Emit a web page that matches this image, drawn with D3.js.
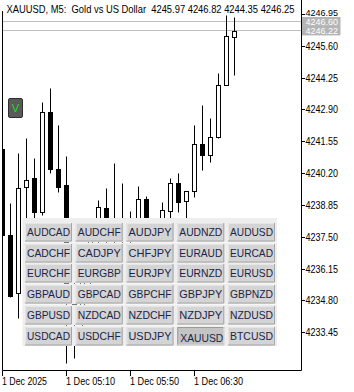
<!DOCTYPE html>
<html><head><meta charset="utf-8">
<script src="https://cdn.jsdelivr.net/npm/d3@7"></script>
<style>html,body{margin:0;padding:0;background:#fff;overflow:hidden}</style>
</head><body>
<svg id="c" width="354" height="392"></svg>
<script>
// ---------- data ----------
const symbolName = "XAUUSD";
const timeframe = "M5";
const description = "Gold vs US Dollar";
const titleOHLC = [4245.97, 4246.82, 4244.35, 4246.25];
const opens  = [4241.23,4237.58,4235.12,4239.61,4239.98,4238.57,4242.78,4240.36,4239.70,4235.25,
                4233.89,4235.67,4237.37,4238.72,4237.58,4237.87,4237.37,4238.00,4239.09,4238.13,
                4238.17,4238.61,4239.80,4239.03,4239.46,4241.44,4240.97,4241.75,4243.94,4245.97];
const highs  = [4241.40,4238.93,4241.06,4241.71,4240.83,4243.22,4243.81,4242.24,4240.93,4236.09,
                4236.00,4237.70,4239.06,4239.57,4240.64,4239.80,4238.60,4239.66,4239.21,4238.21,
                4238.99,4240.01,4240.19,4239.46,4242.24,4243.09,4242.53,4244.44,4246.90,4246.82];
const lows   = [4237.45,4234.93,4234.06,4237.96,4237.79,4238.43,4240.19,4239.40,4232.15,4232.36,
                4233.55,4235.25,4237.15,4237.15,4236.94,4236.39,4236.94,4237.70,4237.79,4237.70,
                4237.96,4238.00,4238.57,4237.41,4239.20,4240.33,4240.69,4241.71,4243.94,4244.35];
const closes = [4237.58,4234.99,4239.57,4239.91,4238.57,4242.78,4240.36,4239.63,4235.25,4233.89,
                4235.67,4237.37,4238.78,4237.58,4237.87,4237.37,4238.00,4239.09,4238.13,4238.17,
                4238.64,4239.80,4238.99,4239.46,4241.44,4240.97,4241.75,4243.94,4246.02,4246.25];
const priceTicks = [4246.95,4245.60,4244.25,4242.90,4241.55,4240.20,4238.85,4237.50,4236.15,4234.80,4233.45];
const timeTickIndex = [0, 8, 16, 24];
const timeTickLabels = ["1 Dec 2025", "1 Dec 05:10", "1 Dec 05:50", "1 Dec 06:30"];
const askPrice = 4246.60, bidPrice = 4246.22;
const buttonSymbols = [
  ["AUDCAD","AUDCHF","AUDJPY","AUDNZD","AUDUSD"],
  ["CADCHF","CADJPY","CHFJPY","EURAUD","EURCAD"],
  ["EURCHF","EURGBP","EURJPY","EURNZD","EURUSD"],
  ["GBPAUD","GBPCAD","GBPCHF","GBPJPY","GBPNZD"],
  ["GBPUSD","NZDCAD","NZDCHF","NZDJPY","NZDUSD"],
  ["USDCAD","USDCHF","USDJPY","XAUUSD","BTCUSD"]
];
const activeSymbol = "XAUUSD";

// ---------- layout ----------
const svg = d3.select("#c");
const L = 2.5, R = 301.5, B = 370.5;
const x = d3.scaleLinear().domain([0, 29]).range([2.5, 234.5]);
const y = d3.scaleLinear().domain([4233.45, 4246.95]).range([332.3, 14]);
const FONT = "'Liberation Sans', Arial, sans-serif";
const fit = (sel, w) => sel.attr("textLength", w).attr("lengthAdjust", "spacingAndGlyphs");

svg.append("defs").append("clipPath").attr("id","plot").append("rect")
  .attr("x", 3).attr("y", 0).attr("width", R - 3).attr("height", B);

// ask / bid lines
svg.append("g").selectAll("line").data([askPrice, bidPrice]).join("line")
  .attr("x1", L).attr("x2", R)
  .attr("y1", d => Math.round(y(d)) - 0.5).attr("y2", d => Math.round(y(d)) - 0.5)
  .attr("stroke", "#c0c0c0").attr("stroke-width", 1);

// candles
const data = opens.map((o,i) => ({i, o, h: highs[i], l: lows[i], c: closes[i]}));
const cg = svg.append("g").attr("clip-path","url(#plot)");
const py = v => Math.round(y(v)) + 0.5;
cg.selectAll("line.w").data(data).join("line").attr("class","w")
  .attr("x1", d => x(d.i)).attr("x2", d => x(d.i))
  .attr("y1", d => py(d.h)).attr("y2", d => py(d.l))
  .attr("stroke", "#000").attr("stroke-width", 1);
cg.selectAll("rect.b").data(data).join("rect").attr("class","b")
  .attr("x", d => x(d.i) - 2).attr("width", 4)
  .attr("y", d => py(Math.max(d.o, d.c)))
  .attr("height", d => Math.max(1, py(Math.min(d.o, d.c)) - py(Math.max(d.o, d.c))))
  .attr("fill", d => d.c >= d.o ? "#fff" : "#000")
  .attr("stroke", "#000").attr("stroke-width", 1);

// frame
svg.append("line").attr("x1", L).attr("x2", L).attr("y1", 11).attr("y2", B).attr("stroke","#000");
svg.append("line").attr("x1", R).attr("x2", R).attr("y1", 0).attr("y2", B).attr("stroke","#000");
svg.append("line").attr("x1", L).attr("x2", R).attr("y1", B).attr("y2", B).attr("stroke","#000");

// ask/bid label boxes
const lab = svg.append("g");
const askY = Math.round(y(askPrice)) - 0.5, bidY = Math.round(y(bidPrice)) - 0.5;
lab.append("rect").attr("x", 302).attr("y", 17).attr("width", 38.5).attr("height", bidY - 4.6 - 17).attr("fill", "#b4b4b4");
lab.append("rect").attr("x", 302).attr("y", bidY - 4.6).attr("width", 38.5).attr("height", 9.5).attr("fill", "#b4b4b4");

// price axis
const pa = svg.append("g");
pa.selectAll("line").data(priceTicks).join("line")
  .attr("x1", R).attr("x2", 305).attr("y1", d => Math.round(y(d)) + 0.5).attr("y2", d => Math.round(y(d)) + 0.5)
  .attr("stroke", "#000");
pa.selectAll("text").data(priceTicks).join("text")
  .attr("x", 305.5).attr("y", (d, k) => y(d) + (k === 0 ? 2 : 4))
  .attr("font-family", FONT).attr("font-size", (d, k) => k === 0 ? 9.5 : 11).attr("fill", "#000")
  .text(d => d.toFixed(2)).call(fit, 32.5);

[[askPrice, askY], [bidPrice, bidY]].forEach(([p, cy]) => {
  lab.append("text").attr("x", 305.5).attr("y", cy + 3.4).attr("font-family", FONT).attr("font-size", 9.5)
    .attr("fill", "#fff").text(p.toFixed(2)).call(fit, 32.5);
});

// time axis
const ta = svg.append("g");
ta.selectAll("line").data(timeTickIndex).join("line")
  .attr("x1", d => x(d)).attr("x2", d => x(d)).attr("y1", B).attr("y2", 376).attr("stroke", "#000");
ta.selectAll("text").data(timeTickIndex).join("text")
  .attr("x", d => x(d) - 0.5).attr("y", 384.5)
  .attr("font-family", FONT).attr("font-size", 11).attr("fill", "#000")
  .text((d, k) => timeTickLabels[k])
  .each(function(d, k){ d3.select(this).call(fit, k === 0 ? 45 : 49); });

// title
svg.append("text").attr("x", 6.5).attr("y", 12.5)
  .attr("font-family", FONT).attr("font-size", 11).attr("fill", "#000").attr("xml:space","preserve")
  .text(`${symbolName}, ${timeframe}:  ${description}  ${titleOHLC.map(v => v.toFixed(2)).join(" ")}`)
  .call(fit, 288);

// "V" button
svg.append("rect").attr("x", 8.5).attr("y", 98.5).attr("width", 14).attr("height", 19).attr("rx", 1.5)
  .attr("fill", "#5a5a5a").attr("stroke", "#2e2e2e");
svg.append("text").attr("x", 15.5).attr("y", 112).attr("text-anchor","middle")
  .attr("font-family", FONT).attr("font-size", 11).attr("fill", "#22dd22").text("V");

// symbol button grid
const colX = c => 25 + c * 50.75;
const rowY = r => Math.round(222.7 + r * 20.8);
const bg = svg.append("g");
buttonSymbols.forEach((row, r) => {
  const top = r === 0 ? 218 : rowY(r) - 1.5;
  bg.append("rect").attr("x", 22.5).attr("y", top).attr("width", 254.5).attr("height", rowY(r) + 19 - top).attr("fill", "#eeeeee");
});
buttonSymbols.forEach((row, r) => row.forEach((s, c) => {
  const fx = colX(c), fy = rowY(r), w = 47, h = 18.5;
  const act = s === activeSymbol;
  const g = bg.append("g");
  g.append("rect").attr("x", fx).attr("y", fy).attr("width", w).attr("height", h).attr("fill", act ? "#c4c4c4" : "#d4d4d4");
  g.append("path").attr("d", `M${fx+0.5},${fy+h} V${fy+0.5} H${fx+w}`).attr("fill","none").attr("stroke", act ? "#9a9a9a" : "#e6e6e6");
  g.append("path").attr("d", `M${fx+w-0.5},${fy} V${fy+h-0.5} H${fx}`).attr("fill","none").attr("stroke", act ? "#d8d8d8" : "#a6a6a6");
  g.append("text").attr("x", fx + w/2 + (act ? 1 : 0)).attr("y", fy + 13.3 + (act ? 1.5 : 0)).attr("text-anchor","middle")
    .attr("font-family", FONT).attr("font-size", 10.5).attr("fill", "#1a2448").text(s).call(fit, 43);
}));
</script>
</body></html>
